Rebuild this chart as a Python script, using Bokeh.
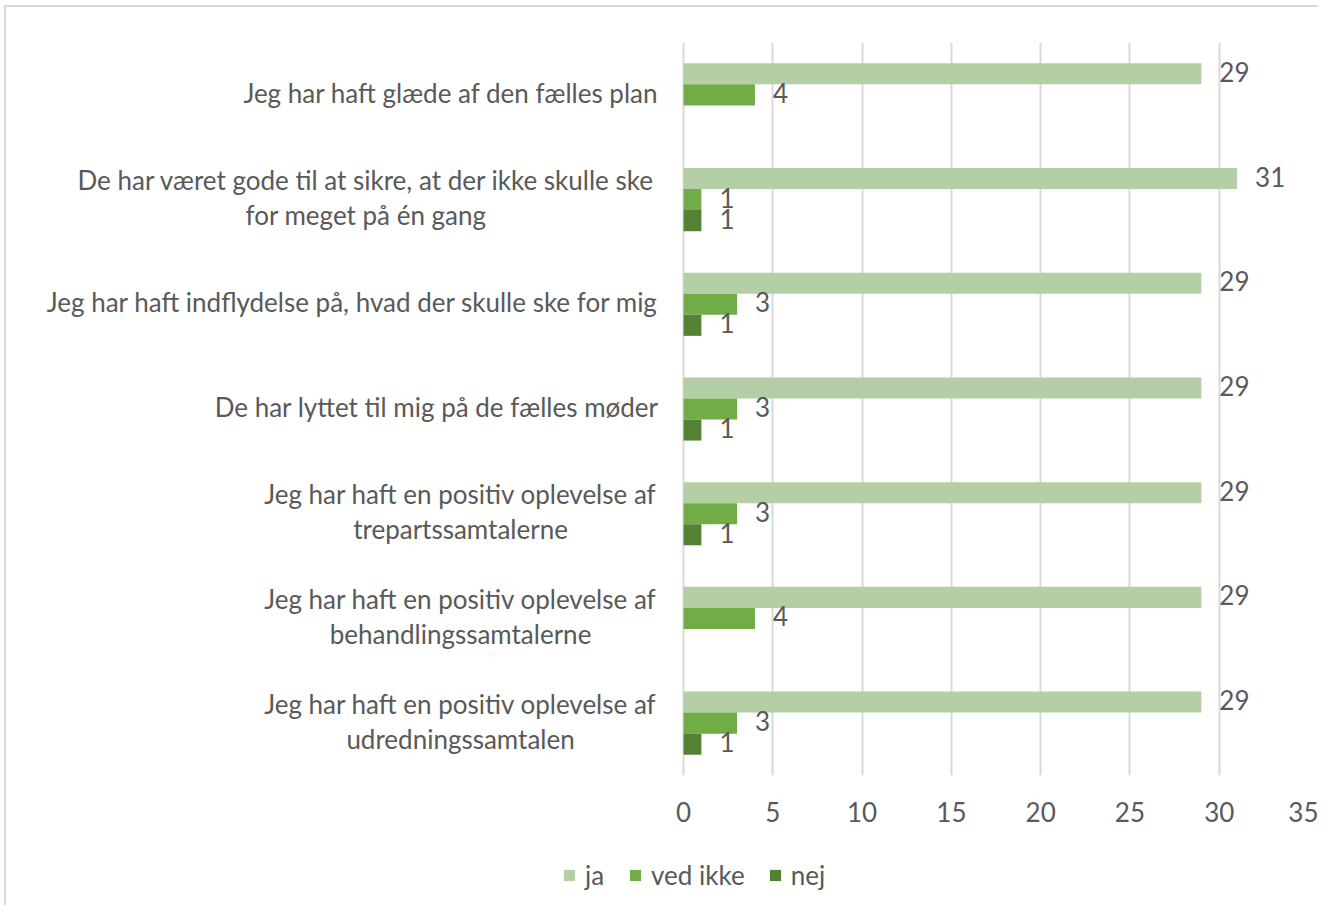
from bokeh.plotting import figure
from bokeh.layouts import column
from bokeh.models import (ColumnDataSource, FactorRange, Range1d, FixedTicker,
                          LabelSet, Legend, LegendItem)
from bokeh.core.properties import value
from bokeh.transform import dodge
from bokeh.embed import file_html
from bokeh.resources import INLINE

categories = [
    "Jeg har haft glæde af den fælles plan",
    "De har været gode til at sikre, at der ikke skulle ske\nfor meget på én gang",
    "Jeg har haft indflydelse på, hvad der skulle ske for mig",
    "De har lyttet til mig på de fælles møder",
    "Jeg har haft en positiv oplevelse af\ntrepartssamtalerne",
    "Jeg har haft en positiv oplevelse af\nbehandlingssamtalerne",
    "Jeg har haft en positiv oplevelse af\nudredningssamtalen",
]
series_names = ["ja", "ved ikke", "nej"]
ja = [29, 31, 29, 29, 29, 29, 29]
ved_ikke = [4, 1, 3, 3, 3, 4, 3]
nej = [None, 1, 1, 1, 1, None, 1]
x_ticks = [0, 5, 10, 15, 20, 25, 30, 35]
x_max = 35

colors = ["#b4cfa6", "#70ad47", "#548235"]
FONT = "Lato"
TXT = "#595959"
FS = "26px"
GRID = "#d9d9d9"

# layout (pixels)
AXIS_W = 624          # pixel width of the 0..35 value axis
LEFT_W = 676          # pixels left of the value 0 (category label area)
RIGHT_W = 12
px_per_unit = AXIS_W / x_max
Y_NUDGE = 2

p = figure(frame_width=LEFT_W + AXIS_W, frame_height=731,
           output_backend="svg", toolbar_location=None,
           y_range=FactorRange(factors=list(reversed(categories)), range_padding=0),
           x_range=Range1d(-LEFT_W / px_per_unit, x_max),
           min_border_left=0, min_border_right=RIGHT_W, min_border_top=35, min_border_bottom=60,
           styles={"border-left": f"2px solid {GRID}", "border-top": f"2px solid {GRID}",
                   "margin-left": "4px", "margin-top": "5px"})
p.outline_line_color = None
p.background_fill_color = "white"
p.border_fill_color = "white"

bar_h = 0.201
offsets = [bar_h, 0.0, -bar_h]
all_vals = [ja, ved_ikke, nej]
for name, vals, off, col in zip(series_names, all_vals, offsets, colors):
    v = [float("nan") if x is None else x for x in vals]
    src = ColumnDataSource(dict(cat=categories, val=v))
    p.hbar(y=dodge("cat", off, range=p.y_range), right="val", left=0, height=bar_h,
           source=src, fill_color=col, line_color=None)
    lc = [c for c, x in zip(categories, vals) if x is not None]
    lv = [x for x in vals if x is not None]
    lsrc = ColumnDataSource(dict(cat=lc, val=lv, txt=[str(x) for x in lv]))
    p.add_layout(LabelSet(x="val", y=dodge("cat", off, range=p.y_range), text="txt", source=lsrc,
                          x_offset=18, y_offset=Y_NUDGE, text_baseline="middle", text_align="left",
                          text_font=value(FONT), text_font_size=FS, text_color=TXT))

# category labels (right-aligned block, lines centred to each other)
STANDOFF = 25
LINE_GAP = 35
LINE1_W = {1: 585, 4: 396, 5: 396, 6: 396}
single = dict(cat=[], txt=[], xo=[])
multi = dict(cat=[], txt=[], xo=[], yo=[])
for i, cat in enumerate(categories):
    lines = cat.split("\n")
    if len(lines) == 1:
        single["cat"].append(cat); single["txt"].append(lines[0]); single["xo"].append(-STANDOFF)
    else:
        cx = -STANDOFF - LINE1_W[i] / 2
        for j, ln in enumerate(lines):
            multi["cat"].append(cat); multi["txt"].append(ln)
            multi["xo"].append(cx); multi["yo"].append(LINE_GAP / 2 - j * LINE_GAP + Y_NUDGE)
single["x0"] = [0] * len(single["cat"])
multi["x0"] = [0] * len(multi["cat"])
p.add_layout(LabelSet(x="x0", y="cat", text="txt", x_offset="xo", y_offset=Y_NUDGE,
                      source=ColumnDataSource(single),
                      text_align="right", text_baseline="middle",
                      text_font=value(FONT), text_font_size=FS, text_color=TXT))
p.add_layout(LabelSet(x="x0", y="cat", text="txt", x_offset="xo", y_offset="yo",
                      source=ColumnDataSource(multi),
                      text_align="center", text_baseline="middle",
                      text_font=value(FONT), text_font_size=FS, text_color=TXT))

p.xaxis.ticker = FixedTicker(ticks=x_ticks)
p.xaxis.axis_line_color = None
p.xaxis.major_tick_line_color = None
p.xaxis.minor_tick_line_color = None
p.xaxis.major_label_standoff = 20
p.xaxis.major_label_text_font = FONT
p.xaxis.major_label_text_font_size = FS
p.xaxis.major_label_text_color = TXT

p.yaxis.visible = False

p.xgrid.grid_line_color = GRID
p.xgrid.grid_line_width = 2
p.ygrid.grid_line_color = None

# legend strip below the chart (legend-only renderers sit outside its visible range)
LEG_H = 72
pl = figure(frame_width=LEFT_W + AXIS_W + RIGHT_W, frame_height=LEG_H,
            output_backend="svg", toolbar_location=None,
            x_axis_type=None, y_axis_type=None,
            x_range=Range1d(0, 1), y_range=Range1d(0, 1),
            min_border=0,
            styles={"border-left": f"2px solid {GRID}", "margin-left": "4px"})
pl.outline_line_color = None
pl.background_fill_color = "white"
pl.border_fill_color = "white"
items = []
for name, col in zip(series_names, colors):
    r = pl.hbar(y=[-10], right=[-9], left=-10, height=0.1, fill_color=col, line_color=None)
    items.append(LegendItem(label=name, renderers=[r]))
legend = Legend(items=items, orientation="horizontal", location=(556, 14),
                label_text_font=FONT, label_text_font_size=FS, label_text_color=TXT,
                glyph_width=14, glyph_height=14, label_standoff=9, spacing=23,
                border_line_color=None, background_fill_alpha=0, margin=0, padding=0)
pl.add_layout(legend, "center")

layout = column(p, pl, spacing=0)
open("out.html", "w").write(file_html(layout, INLINE))
